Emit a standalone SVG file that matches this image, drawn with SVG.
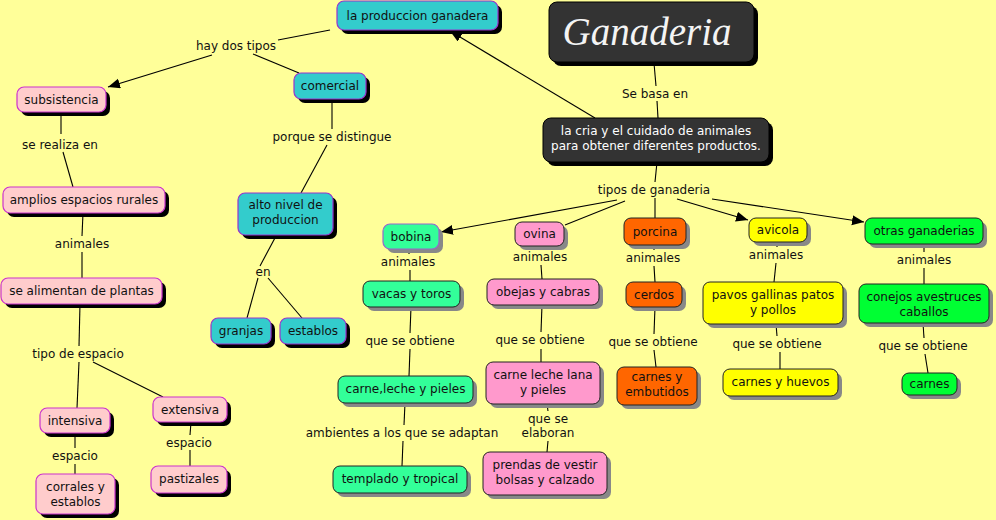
<svg xmlns="http://www.w3.org/2000/svg" width="996" height="520" viewBox="0 0 996 520">
<style>
text{font-family:"DejaVu Sans",Verdana,sans-serif;font-size:12px;fill:#111;text-anchor:middle}
.w{fill:#fff}
.title{font-family:"Liberation Serif","Times New Roman",serif;font-style:italic;font-size:39px;fill:#f4f4f4}
.shk{fill:#000}
.shg{fill:#888}
.dark{fill:#333;stroke:#000;stroke-width:1}
.teal{fill:#33CCCC;stroke:#9933CC;stroke-width:1.2}
.pinkl{fill:#FFCCCC;stroke:#CC33CC;stroke-width:1.2}
.mint{fill:#33FF99;stroke:#222;stroke-width:1}
.mintp{fill:#33FF99;stroke:#9966CC;stroke-width:1.2}
.pink{fill:#FF99CC;stroke:#222;stroke-width:1}
.orange{fill:#FF6600;stroke:#222;stroke-width:1}
.yellow{fill:#FFFF00;stroke:#222;stroke-width:1}
.green{fill:#00FF33;stroke:#222;stroke-width:1}
#connectors line{stroke:#000;stroke-width:1.1;fill:none}
</style>
<defs>
<marker id="arr" markerUnits="userSpaceOnUse" markerWidth="13" markerHeight="11" refX="12" refY="5" orient="auto">
<path d="M0,0 L12,5 L0,10 z" fill="#000"/>
</marker>
</defs>
<rect width="996" height="520" fill="#FFFF99"/>

<g id="connectors">
<line x1="654" y1="63" x2="656" y2="86"/>
<line x1="657" y1="101" x2="658" y2="118"/>
<line x1="595" y1="118" x2="450" y2="31" marker-end="url(#arr)"/>
<line x1="330" y1="30" x2="278" y2="40"/>
<line x1="212" y1="55" x2="108" y2="87" marker-end="url(#arr)"/>
<line x1="253" y1="54" x2="299" y2="73"/>
<line x1="332" y1="99" x2="332" y2="129"/>
<line x1="327" y1="145" x2="301" y2="193"/>
<line x1="61" y1="112" x2="61" y2="134"/>
<line x1="63" y1="152" x2="73" y2="187"/>
<line x1="83" y1="213" x2="82" y2="236"/>
<line x1="82" y1="252" x2="82" y2="278"/>
<line x1="80" y1="304" x2="79" y2="346"/>
<line x1="79" y1="362" x2="77" y2="408"/>
<line x1="93" y1="362" x2="163" y2="397"/>
<line x1="276" y1="236" x2="260" y2="266"/>
<line x1="258" y1="278" x2="247" y2="318"/>
<line x1="268" y1="278" x2="302" y2="318"/>
<line x1="75" y1="433" x2="75" y2="448"/>
<line x1="75" y1="464" x2="75" y2="474"/>
<line x1="191" y1="422" x2="190" y2="435"/>
<line x1="190" y1="450" x2="190" y2="466"/>
<line x1="657" y1="162" x2="655" y2="182"/>
<line x1="617" y1="200" x2="441" y2="232" marker-end="url(#arr)"/>
<line x1="625" y1="201" x2="565" y2="225"/>
<line x1="655" y1="198" x2="655" y2="218"/>
<line x1="677" y1="199" x2="748" y2="220" marker-end="url(#arr)"/>
<line x1="712" y1="199" x2="864" y2="222" marker-end="url(#arr)"/>
<line x1="409" y1="249" x2="409" y2="254"/>
<line x1="410" y1="270" x2="410" y2="281"/>
<line x1="411" y1="307" x2="410" y2="333"/>
<line x1="410" y1="349" x2="409" y2="376"/>
<line x1="405" y1="403" x2="404" y2="425"/>
<line x1="403" y1="441" x2="402" y2="466"/>
<line x1="540" y1="246" x2="540" y2="249"/>
<line x1="541" y1="265" x2="542" y2="279"/>
<line x1="542" y1="305" x2="541" y2="332"/>
<line x1="541" y1="349" x2="541" y2="362"/>
<line x1="547" y1="404" x2="548" y2="411"/>
<line x1="548" y1="441" x2="547" y2="452"/>
<line x1="654" y1="245" x2="654" y2="250"/>
<line x1="654" y1="266" x2="655" y2="282"/>
<line x1="655" y1="307" x2="654" y2="334"/>
<line x1="654" y1="350" x2="656" y2="367"/>
<line x1="777" y1="242" x2="777" y2="247"/>
<line x1="776" y1="263" x2="774" y2="282"/>
<line x1="776" y1="324" x2="777" y2="336"/>
<line x1="780" y1="352" x2="780" y2="369"/>
<line x1="924" y1="244" x2="924" y2="252"/>
<line x1="924" y1="268" x2="924" y2="284"/>
<line x1="923" y1="323" x2="924" y2="338"/>
<line x1="925" y1="354" x2="928" y2="373"/>
</g>

<g id="labels">
<text x="655" y="98">Se basa en</text>
<text x="236" y="50">hay dos tipos</text>
<text x="332" y="141">porque se distingue</text>
<text x="60" y="149">se realiza en</text>
<text x="82" y="248">animales</text>
<text x="263" y="276">en</text>
<text x="78" y="358">tipo de espacio</text>
<text x="75" y="460">espacio</text>
<text x="189" y="447">espacio</text>
<text x="654" y="194">tipos de ganaderia</text>
<text x="408" y="266">animales</text>
<text x="410" y="345">que se obtiene</text>
<text x="402" y="437">ambientes a los que se adaptan</text>
<text x="540" y="261">animales</text>
<text x="540" y="344">que se obtiene</text>
<text x="548" y="423">que se</text>
<text x="548" y="437">elaboran</text>
<text x="653" y="262">animales</text>
<text x="653" y="346">que se obtiene</text>
<text x="776" y="259">animales</text>
<text x="777" y="348">que se obtiene</text>
<text x="924" y="264">animales</text>
<text x="923" y="350">que se obtiene</text>
</g>

<g id="n-produccion"><rect class="shk" x="341" y="5" width="161" height="29" rx="7"/><rect class="teal" x="337" y="1" width="161" height="29" rx="7"/><text x="417.5" y="20">la produccion ganadera</text></g>
<g id="n-ganaderia"><rect class="shk" x="553" y="6" width="205" height="60" rx="8"/><rect class="dark" x="549" y="2" width="205" height="60" rx="8"/><text class="title" x="647" y="45">Ganaderia</text></g>
<g id="n-cria"><rect class="shk" x="547" y="122" width="226" height="44" rx="8"/><rect class="dark" x="543" y="118" width="226" height="44" rx="8"/><text class="w" x="656" y="135">la cria y el cuidado de animales</text><text class="w" x="656" y="150">para obtener diferentes productos.</text></g>

<g id="n-subsistencia"><rect class="shk" x="21" y="91" width="89" height="25" rx="7"/><rect class="pinkl" x="17" y="87" width="89" height="25" rx="7"/><text x="61.5" y="104">subsistencia</text></g>
<g id="n-comercial"><rect class="shk" x="298" y="77" width="72" height="26" rx="7"/><rect class="teal" x="294" y="73" width="72" height="26" rx="7"/><text x="330" y="90">comercial</text></g>
<g id="n-amplios"><rect class="shk" x="7" y="191" width="162" height="26" rx="7"/><rect class="pinkl" x="3" y="187" width="162" height="26" rx="7"/><text x="84" y="204">amplios espacios rurales</text></g>
<g id="n-alto"><rect class="shk" x="242" y="197" width="95" height="42" rx="7"/><rect class="teal" x="238" y="193" width="95" height="42" rx="7"/><text x="285.5" y="209">alto nivel de</text><text x="285.5" y="224">produccion</text></g>
<g id="n-alimentan"><rect class="shk" x="5" y="282" width="161" height="26" rx="7"/><rect class="pinkl" x="1" y="278" width="161" height="26" rx="7"/><text x="81.5" y="295">se alimentan de plantas</text></g>
<g id="n-granjas"><rect class="shk" x="215" y="322" width="60" height="26" rx="7"/><rect class="teal" x="211" y="318" width="60" height="26" rx="7"/><text x="241" y="335">granjas</text></g>
<g id="n-establos"><rect class="shk" x="284" y="322" width="66" height="26" rx="7"/><rect class="teal" x="280" y="318" width="66" height="26" rx="7"/><text x="313" y="335">establos</text></g>
<g id="n-intensiva"><rect class="shk" x="44" y="412" width="70" height="25" rx="7"/><rect class="pinkl" x="40" y="408" width="70" height="25" rx="7"/><text x="75" y="425">intensiva</text></g>
<g id="n-extensiva"><rect class="shk" x="157" y="401" width="74" height="25" rx="7"/><rect class="pinkl" x="153" y="397" width="74" height="25" rx="7"/><text x="190" y="414">extensiva</text></g>
<g id="n-corrales"><rect class="shk" x="40" y="478" width="79" height="40" rx="7"/><rect class="pinkl" x="36" y="474" width="79" height="40" rx="7"/><text x="75.5" y="491">corrales y</text><text x="75.5" y="506">establos</text></g>
<g id="n-pastizales"><rect class="shk" x="155" y="470" width="76" height="27" rx="7"/><rect class="pinkl" x="151" y="466" width="76" height="27" rx="7"/><text x="189" y="483">pastizales</text></g>

<g id="n-bobina"><rect class="shg" x="387" y="228" width="56" height="25" rx="7"/><rect class="mintp" x="383" y="224" width="56" height="25" rx="7"/><text x="411" y="241">bobina</text></g>
<g id="n-vacas"><rect class="shg" x="367" y="285" width="97" height="26" rx="7"/><rect class="mint" x="363" y="281" width="97" height="26" rx="7"/><text x="411.5" y="298">vacas y toros</text></g>
<g id="n-carneleche"><rect class="shg" x="342" y="380" width="135" height="27" rx="7"/><rect class="mint" x="338" y="376" width="135" height="27" rx="7"/><text x="405.5" y="393">carne,leche y pieles</text></g>
<g id="n-templado"><rect class="shg" x="337" y="470" width="134" height="27" rx="7"/><rect class="mint" x="333" y="466" width="134" height="27" rx="7"/><text x="400" y="483">templado y tropical</text></g>

<g id="n-ovina"><rect class="shg" x="519" y="226" width="49" height="24" rx="7"/><rect class="pink" x="515" y="222" width="49" height="24" rx="7"/><text x="539.5" y="238">ovina</text></g>
<g id="n-obejas"><rect class="shg" x="491" y="283" width="112" height="26" rx="7"/><rect class="pink" x="487" y="279" width="112" height="26" rx="7"/><text x="543" y="296">obejas y cabras</text></g>
<g id="n-carnelana"><rect class="shg" x="490" y="366" width="114" height="42" rx="7"/><rect class="pink" x="486" y="362" width="114" height="42" rx="7"/><text x="543" y="379">carne leche lana</text><text x="543" y="394">y pieles</text></g>
<g id="n-prendas"><rect class="shg" x="487" y="456" width="124" height="43" rx="7"/><rect class="pink" x="483" y="452" width="124" height="43" rx="7"/><text x="545" y="469">prendas de vestir</text><text x="545" y="484">bolsas y calzado</text></g>

<g id="n-porcina"><rect class="shg" x="628" y="222" width="62" height="27" rx="7"/><rect class="orange" x="624" y="218" width="62" height="27" rx="7"/><text x="655" y="236">porcina</text></g>
<g id="n-cerdos"><rect class="shg" x="630" y="286" width="56" height="25" rx="7"/><rect class="orange" x="626" y="282" width="56" height="25" rx="7"/><text x="654" y="299">cerdos</text></g>
<g id="n-embutidos"><rect class="shg" x="621" y="371" width="80" height="38" rx="7"/><rect class="orange" x="617" y="367" width="80" height="38" rx="7"/><text x="657" y="381">carnes y</text><text x="657" y="396">embutidos</text></g>

<g id="n-avicola"><rect class="shg" x="753" y="222" width="58" height="24" rx="7"/><rect class="yellow" x="749" y="218" width="58" height="24" rx="7"/><text x="778" y="234">avicola</text></g>
<g id="n-pavos"><rect class="shg" x="707" y="286" width="140" height="42" rx="7"/><rect class="yellow" x="703" y="282" width="140" height="42" rx="7"/><text x="773" y="299">pavos gallinas patos</text><text x="773" y="314">y pollos</text></g>
<g id="n-huevos"><rect class="shg" x="727" y="373" width="115" height="27" rx="7"/><rect class="yellow" x="723" y="369" width="115" height="27" rx="7"/><text x="780.5" y="386">carnes y huevos</text></g>

<g id="n-otras"><rect class="shg" x="869" y="222" width="118" height="26" rx="7"/><rect class="green" x="865" y="218" width="118" height="26" rx="7"/><text x="924" y="235">otras ganaderias</text></g>
<g id="n-conejos"><rect class="shg" x="863" y="288" width="130" height="39" rx="7"/><rect class="green" x="859" y="284" width="130" height="39" rx="7"/><text x="924" y="301">conejos avestruces</text><text x="924" y="316">caballos</text></g>
<g id="n-carnes"><rect class="shg" x="906" y="377" width="55" height="22" rx="7"/><rect class="green" x="902" y="373" width="55" height="22" rx="7"/><text x="929.5" y="388">carnes</text></g>
</svg>
